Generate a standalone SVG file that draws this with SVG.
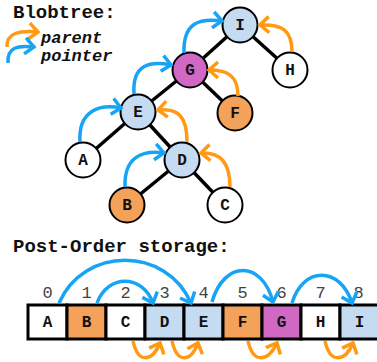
<svg xmlns="http://www.w3.org/2000/svg" width="377" height="362" viewBox="0 0 377 362">
<defs>
<marker id="hb" markerUnits="userSpaceOnUse" markerWidth="20" markerHeight="20" viewBox="-12 -10 14 20" refX="0" refY="0" orient="auto">
<path d="M-9,-8 L0,0 L-9,8" fill="none" stroke="#18a4f5" stroke-width="3.5" stroke-linecap="butt" stroke-linejoin="miter"/>
</marker>
<marker id="ho" markerUnits="userSpaceOnUse" markerWidth="20" markerHeight="20" viewBox="-12 -10 14 20" refX="0" refY="0" orient="auto">
<path d="M-9,-8 L0,0 L-9,8" fill="none" stroke="#ff9a12" stroke-width="3.5" stroke-linecap="butt" stroke-linejoin="miter"/>
</marker>
</defs>
<style>
.title{font-family:"Liberation Mono",monospace;font-weight:bold;font-size:19px;fill:#111}
.leg{font-family:"Liberation Mono",monospace;font-weight:bold;font-style:italic;font-size:17px;fill:#111}
.nd{stroke:#000;stroke-width:2}
.lbl{font-family:"Liberation Mono",monospace;font-weight:bold;font-size:16px;fill:#111;text-anchor:middle}
.edge{stroke:#000;stroke-width:3.5}
.ab{fill:none;stroke:#18a4f5;stroke-width:3.5;marker-end:url(#hb)}
.ao{fill:none;stroke:#ff9a12;stroke-width:3.5;marker-end:url(#ho)}
.cell{stroke:#000;stroke-width:3}
.idx{font-family:"Liberation Mono",monospace;font-size:17px;fill:#444;text-anchor:middle}
.w{fill:#ffffff}.lb{fill:#c5dbf2}.or{fill:#f4a15a}.mg{fill:#d068c4}
</style>
<text class="title" x="13" y="18">Blobtree:</text>
<g id="legend">
<path class="ao" d="M7,47 C6,33 20,30 38,32"/>
<path class="ab" d="M8,63 C7,47 18,45 34,47"/>
<text class="leg" x="41" y="43">parent</text>
<text class="leg" x="41" y="61">pointer</text>
</g>
<g id="edges">
<line class="edge" x1="240" y1="25" x2="190" y2="70"/>
<line class="edge" x1="240" y1="25" x2="290" y2="70"/>
<line class="edge" x1="190" y1="70" x2="138" y2="112"/>
<line class="edge" x1="190" y1="70" x2="235" y2="113"/>
<line class="edge" x1="138" y1="112" x2="83" y2="160"/>
<line class="edge" x1="138" y1="112" x2="182" y2="160"/>
<line class="edge" x1="182" y1="160" x2="127" y2="205"/>
<line class="edge" x1="182" y1="160" x2="225" y2="205"/>
</g>
<g id="node-I"><circle class="nd lb" cx="240" cy="25" r="17.5"/><text class="lbl" x="240" y="30">I</text></g>
<g id="node-G"><circle class="nd mg" cx="190" cy="70" r="17.5"/><text class="lbl" x="190" y="75">G</text></g>
<g id="node-H"><circle class="nd w" cx="290" cy="70" r="17.5"/><text class="lbl" x="290" y="75">H</text></g>
<g id="node-E"><circle class="nd lb" cx="138" cy="112" r="17.5"/><text class="lbl" x="138" y="117">E</text></g>
<g id="node-F"><circle class="nd or" cx="235" cy="113" r="17.5"/><text class="lbl" x="235" y="118">F</text></g>
<g id="node-A"><circle class="nd w" cx="83" cy="160" r="17.5"/><text class="lbl" x="83" y="165">A</text></g>
<g id="node-D"><circle class="nd lb" cx="182" cy="160" r="17.5"/><text class="lbl" x="182" y="165">D</text></g>
<g id="node-B"><circle class="nd or" cx="127" cy="205" r="17.5"/><text class="lbl" x="127" y="210">B</text></g>
<g id="node-C"><circle class="nd w" cx="225" cy="205" r="17.5"/><text class="lbl" x="225" y="210">C</text></g>
<g id="parent-pointers">
<path class="ab" d="M184,53 C183,22 200,18 222,21"/>
<path class="ao" d="M292,52 C292,30 282,24 260,25"/>
<path class="ao" d="M238,96 C238,76 228,70 209,70"/>
<path class="ab" d="M134,94 C132,64 150,61 171,65"/>
<path class="ab" d="M80,142 C78,110 100,104 121,108"/>
<path class="ao" d="M187,142 C187,116 178,108 158,110"/>
<path class="ab" d="M125,187 C124,157 142,150 164,153"/>
<path class="ao" d="M230,187 C230,162 220,152 201,153"/>
</g>
<text class="title" x="13" y="252">Post-Order storage:</text>
<g id="storage">
<rect class="cell w" x="28" y="305" width="39" height="34"/>
<rect class="cell or" x="67" y="305" width="39" height="34"/>
<rect class="cell w" x="106" y="305" width="39" height="34"/>
<rect class="cell lb" x="145" y="305" width="39" height="34"/>
<rect class="cell lb" x="184" y="305" width="39" height="34"/>
<rect class="cell or" x="223" y="305" width="39" height="34"/>
<rect class="cell mg" x="262" y="305" width="39" height="34"/>
<rect class="cell w" x="301" y="305" width="39" height="34"/>
<rect class="cell lb" x="340" y="305" width="39" height="34"/>
<text class="lbl" x="47.5" y="327">A</text>
<text class="lbl" x="86.5" y="327">B</text>
<text class="lbl" x="125.5" y="327">C</text>
<text class="lbl" x="164.5" y="327">D</text>
<text class="lbl" x="203.5" y="327">E</text>
<text class="lbl" x="242.5" y="327">F</text>
<text class="lbl" x="281.5" y="327">G</text>
<text class="lbl" x="320.5" y="327">H</text>
<text class="lbl" x="359.5" y="327">I</text>
<text class="idx" x="47.5" y="298">0</text>
<text class="idx" x="86.5" y="298">1</text>
<text class="idx" x="125.5" y="298">2</text>
<text class="idx" x="164.5" y="298">3</text>
<text class="idx" x="203.5" y="298">4</text>
<text class="idx" x="242.5" y="298">5</text>
<text class="idx" x="281.5" y="298">6</text>
<text class="idx" x="320.5" y="298">7</text>
<text class="idx" x="358.5" y="298">8</text>
</g>
<g id="storage-pointers">
<path class="ab" d="M59,303 C84,246 166,246 191,303"/>
<path class="ab" d="M97,303 C108,274 142,274 153,303"/>
<path class="ab" d="M212,302 C224,260 262,260 273,302"/>
<path class="ab" d="M292,303 C303,266 340,266 352,303"/>
<path class="ao" d="M133,341 C138,364 152,362 160,343"/>
<path class="ao" d="M172,341 C177,364 191,362 198,343"/>
<path class="ao" d="M248,341 C253,364 268,362 277,343"/>
<path class="ao" d="M325,341 C330,364 345,362 353,343"/>
</g>
</svg>
